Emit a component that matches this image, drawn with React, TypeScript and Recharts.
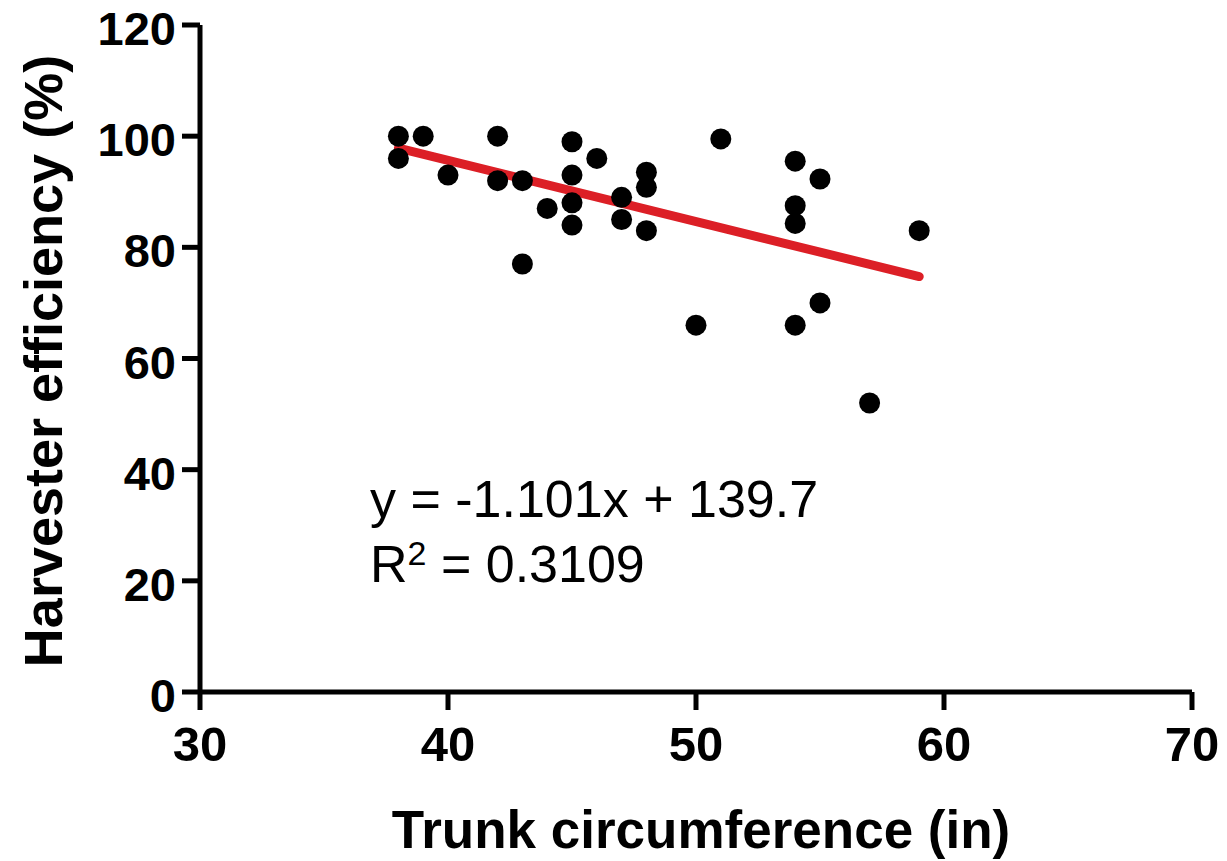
import React from 'react';
import { ScatterChart, Scatter, XAxis, YAxis, Label, Customized } from 'recharts';

const trunkCircumference = [38, 38, 39, 40, 42, 42, 43, 43, 44, 45, 45, 45, 45, 46, 47, 47, 48, 48, 48, 50, 51, 54, 54, 54, 54, 55, 55, 57, 59];
const harvesterEfficiency = [100, 96, 100, 93, 100, 92, 92, 77, 87, 99, 93, 88, 84, 96, 89, 85, 93.5, 90.8, 83, 66, 99.5, 95.5, 87.5, 84.3, 66, 92.3, 70, 52, 83];
const fitX = [38, 59];
const fitY = [97.86, 74.74];
const xTicks = [30, 40, 50, 60, 70];
const yTicks = [0, 20, 40, 60, 80, 100, 120];

const points = trunkCircumference.map((x, i) => ({ x, y: harvesterEfficiency[i] }));
const fitLine = fitX.map((x, i) => ({ x, y: fitY[i] }));

const FONT = '"Liberation Sans", Arial, Helvetica, sans-serif';

const XTick = (props: any) => {
  const { x, y, payload } = props;
  return (
    <text x={x} y={y + 35} textAnchor="middle" fontSize={49} fontWeight="bold" fontFamily={FONT} fill="#000">
      {payload.value}
    </text>
  );
};

const YTick = (props: any) => {
  const { x, y, payload } = props;
  return (
    <text x={x} y={y + 20} textAnchor="end" fontSize={47} fontWeight="bold" fontFamily={FONT} fill="#000">
      {payload.value}
    </text>
  );
};

const Dot = (props: any) => <circle cx={props.cx} cy={props.cy} r={10.5} fill="#000" />;
const NoDot = () => <g />;

const Equation = () => (
  <g fontFamily={FONT} fill="#000">
    <text x={370} y={517} fontSize={52}>y = -1.101x + 139.7</text>
    <text x={370} y={582} fontSize={52}>
      R<tspan fontSize={34} dy={-17}>2</tspan>
      <tspan dy={17}> = 0.3109</tspan>
    </text>
  </g>
);

export default function App() {
  return (
    <div style={{ position: 'absolute', left: 0, top: 0, background: '#fff' }}>
      <ScatterChart width={1227} height={861} margin={{ top: 25, right: 35, left: 0, bottom: 0 }}>
        <XAxis
          type="number"
          dataKey="x"
          domain={[30, 70]}
          ticks={xTicks}
          height={169}
          tickSize={18}
          tickMargin={16}
          tick={<XTick />}
          axisLine={{ stroke: '#000', strokeWidth: 5 }}
          tickLine={{ stroke: '#000', strokeWidth: 5 }}
          allowDataOverflow
        >
          <Label
            content={() => (
              <text x={701} y={848} textAnchor="middle" fontSize={53} fontWeight="bold" fontFamily={FONT} fill="#000">
                Trunk circumference (in)
              </text>
            )}
          />
        </XAxis>
        <YAxis
          type="number"
          dataKey="y"
          domain={[0, 120]}
          ticks={yTicks}
          width={200}
          tickSize={18}
          tickMargin={6}
          tick={<YTick />}
          axisLine={{ stroke: '#000', strokeWidth: 5 }}
          tickLine={{ stroke: '#000', strokeWidth: 5 }}
          allowDataOverflow
        >
          <Label
            content={() => (
              <text
                x={62}
                y={361}
                transform="rotate(-90 62 361)"
                textAnchor="middle"
                fontSize={54}
                fontWeight="bold"
                fontFamily={FONT}
                fill="#000"
              >
                Harvester efficiency (%)
              </text>
            )}
          />
        </YAxis>
        <Scatter
          data={fitLine}
          line={{ stroke: '#dc1f26', strokeWidth: 9, strokeLinecap: 'round' }}
          shape={<NoDot />}
          isAnimationActive={false}
        />
        <Scatter data={points} shape={<Dot />} isAnimationActive={false} />
        <Customized component={Equation} />
      </ScatterChart>
    </div>
  );
}
